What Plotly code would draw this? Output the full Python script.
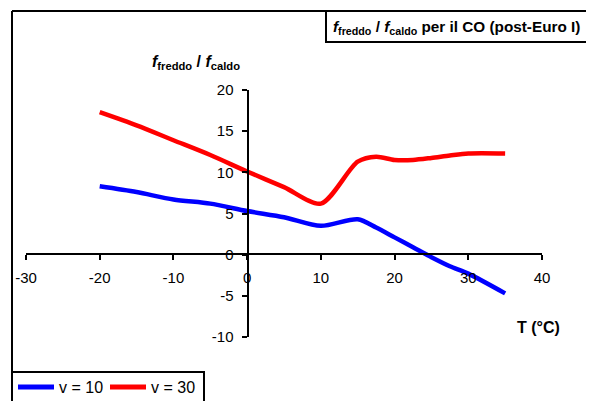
import plotly.graph_objects as go

# ---- data ----
temps_v10 = [-20, -15, -10, -5, 0, 5, 10, 15, 17.5, 20, 22.5, 25, 27.5, 30, 35]
ratio_v10 = [8.3, 7.6, 6.7, 6.2, 5.3, 4.55, 3.5, 4.3, 3.3, 2.1, 0.9, -0.3, -1.4, -2.3, -4.7]

temps_v30 = [-20, -15, -10, -5, 0, 5, 10, 15, 17.5, 20, 22.5, 25, 27.5, 30, 35]
ratio_v30 = [17.3, 15.7, 13.9, 12.1, 10.1, 8.2, 6.2, 11.3, 11.9, 11.5, 11.5, 11.75, 12.05, 12.3, 12.3]

x_ticks = [-30, -20, -10, 0, 10, 20, 30, 40]
x_tick_labels = ["-30", "-20", "-10", "0", "10", "20", "30", "40"]
y_ticks = [-10, -5, 0, 5, 10, 15, 20]
y_tick_labels = ["-10", "-5", "0", "5", "10", "15", "20"]

series_names = ["v = 10", "v = 30"]
series_colors = ["#0000FF", "#FF0000"]

# the page body has an 8px margin: the figure is made to fit inside the window
OFF = 8
W, H = 594 - OFF, 401 - OFF
FONT = "Liberation Sans, Arial, sans-serif"


def px(x):
    return (x - OFF) / W


def py(y):
    return 1 - (y - OFF) / H


fig = go.Figure()
for xs, ys, name, col in [(temps_v10, ratio_v10, series_names[0], series_colors[0]),
                          (temps_v30, ratio_v30, series_names[1], series_colors[1])]:
    fig.add_trace(go.Scatter(x=xs, y=ys, mode="lines", name=name,
                             line=dict(color=col, width=4.5, shape="spline", smoothing=0.8),
                             showlegend=False, cliponaxis=False))

axis_common = dict(showline=True, linecolor="black", linewidth=2, ticks="outside",
                   ticklen=5, tickwidth=2, tickcolor="black", showgrid=False,
                   zeroline=False, tickfont=dict(family=FONT, size=15, color="black"),
                   anchor="free", automargin=False, ticklabelstandoff=5)

fig.update_layout(
    width=W, height=H,
    margin=dict(l=0, r=0, t=0, b=0, pad=0, autoexpand=False),
    paper_bgcolor="white", plot_bgcolor="white",
    font=dict(family=FONT, color="black"),
    xaxis=dict(range=[-30, 40], tickvals=x_ticks, ticktext=x_tick_labels,
               domain=[px(26), px(542)], position=py(254.3), **axis_common),
    yaxis=dict(range=[-10, 20], tickvals=y_ticks, ticktext=y_tick_labels,
               domain=[py(337), py(90)], position=px(247.5), **axis_common),
    showlegend=False,
)

shapes = [
    # outer frame
    dict(type="line", xref="paper", yref="paper", x0=px(12), y0=py(11), x1=1.0, y1=py(11),
         line=dict(color="black", width=2)),
    dict(type="line", xref="paper", yref="paper", x0=px(12), y0=py(11), x1=px(12), y1=0,
         line=dict(color="black", width=2)),
    # title box
    dict(type="rect", xref="paper", yref="paper", x0=px(326), y0=py(42), x1=1.01, y1=py(11),
         line=dict(color="black", width=2), fillcolor="white"),
    # legend box
    dict(type="rect", xref="paper", yref="paper", x0=px(12), y0=-0.05, x1=px(204), y1=py(372),
         line=dict(color="black", width=2), fillcolor="white"),
    # legend samples
    dict(type="line", xref="paper", yref="paper", x0=px(18), y0=py(387), x1=px(54), y1=py(387),
         line=dict(color=series_colors[0], width=5)),
    dict(type="line", xref="paper", yref="paper", x0=px(110), y0=py(387), x1=px(146), y1=py(387),
         line=dict(color=series_colors[1], width=5)),
]
fig.update_layout(shapes=shapes)

annotations = [
    dict(text="<b><i>f</i><sub>freddo</sub> / <i>f</i><sub>caldo</sub></b>",
         x=px(196), y=py(62), xref="paper", yref="paper", showarrow=False,
         xanchor="center", yanchor="middle", font=dict(size=16)),
    dict(text="<b>T (°C)</b>", x=px(538), y=py(327), xref="paper", yref="paper",
         showarrow=False, xanchor="center", yanchor="middle", font=dict(size=16)),
    dict(text="<b><i>f</i><sub>freddo</sub> / <i>f</i><sub>caldo</sub> per il CO (post-Euro I)</b>",
         x=px(331), y=py(27), xref="paper", yref="paper", showarrow=False,
         xanchor="left", yanchor="middle", font=dict(size=15.3)),
    dict(text=series_names[0], x=px(57), y=py(387), xref="paper", yref="paper",
         showarrow=False, xanchor="left", yanchor="middle", font=dict(size=16)),
    dict(text=series_names[1], x=px(149), y=py(387), xref="paper", yref="paper",
         showarrow=False, xanchor="left", yanchor="middle", font=dict(size=16)),
]
fig.update_layout(annotations=annotations)

fig.write_html("out.html")
